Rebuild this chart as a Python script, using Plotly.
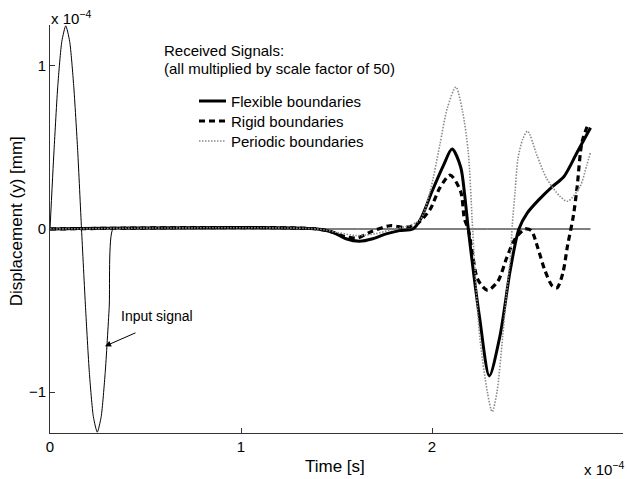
import plotly.graph_objects as go

# Time axis in units of 1e-4 s, displacement in units of 1e-4 mm
input_t = [0, 0.021, 0.041, 0.062, 0.0825, 0.103, 0.124, 0.145, 0.165, 0.186, 0.206,
           0.227, 0.2475, 0.268, 0.289, 0.31, 0.33, 0.40, 2.83]
input_y = [0, 0.48, 0.88, 1.15, 1.245, 1.15, 0.88, 0.48, 0, -0.48, -0.88,
           -1.15, -1.245, -1.15, -0.88, -0.48, 0, 0, 0]

flex_t = [0, 1.40, 1.48, 1.55, 1.62, 1.69, 1.76, 1.83, 1.90, 1.94, 2.00, 2.06, 2.105,
          2.15, 2.17, 2.19, 2.25, 2.30, 2.355, 2.41, 2.455, 2.50, 2.56, 2.63, 2.69,
          2.76, 2.83]
flex_y = [0, 0, -0.02, -0.06, -0.075, -0.06, -0.03, -0.01, 0.0, 0.06, 0.23, 0.39, 0.49,
          0.38, 0.22, 0.0, -0.55, -0.90, -0.66, -0.25, 0.0, 0.10, 0.18, 0.26, 0.32,
          0.47, 0.62]

rigid_t = [0, 1.40, 1.48, 1.54, 1.61, 1.675, 1.78, 1.86, 1.92, 1.99, 2.04, 2.095, 2.15,
           2.17, 2.19, 2.21, 2.24, 2.29, 2.345, 2.39, 2.435, 2.487, 2.52, 2.555, 2.59,
           2.63, 2.655, 2.685, 2.71, 2.74, 2.76, 2.785, 2.82]
rigid_y = [0, 0, -0.02, -0.045, -0.055, -0.02, 0.02, 0.01, 0.03, 0.12, 0.25, 0.33, 0.23,
           0.06, 0.0, -0.14, -0.31, -0.375, -0.32, -0.18, -0.06, 0.0, -0.01, -0.12, -0.25,
           -0.35, -0.36, -0.27, -0.10, 0.08, 0.26, 0.53, 0.65]

periodic_t = [0, 1.40, 1.50, 1.60, 1.70, 1.80, 1.88, 1.94, 1.99, 2.04, 2.08, 2.125, 2.16,
              2.19, 2.21, 2.225, 2.25, 2.29, 2.315, 2.34, 2.37, 2.39, 2.41, 2.42, 2.435,
              2.45, 2.475, 2.50, 2.55, 2.60, 2.67, 2.71, 2.775, 2.81, 2.83]
periodic_y = [0, 0, -0.02, -0.04, -0.03, 0.0, 0.02, 0.06, 0.23, 0.51, 0.74, 0.87, 0.72,
              0.47, 0.06, -0.25, -0.66, -1.0, -1.12, -1.0, -0.66, -0.40, -0.18, 0.02, 0.23,
              0.43, 0.55, 0.60, 0.45, 0.31, 0.20, 0.17, 0.26, 0.39, 0.47]

x_ticks = [0, 1, 2, 3]
y_ticks = [-1, 0, 1]

series_names = ["Flexible boundaries", "Rigid boundaries", "Periodic boundaries"]

FONT = "Liberation Sans, Arial, Helvetica, sans-serif"

styles = [
    dict(color="black", width=3),
    dict(color="black", width=3.2, dash="6px,4px"),
    dict(color="#8a8a8a", width=1.6, dash="1.5px,1.5px"),
]

fig = go.Figure()

fig.add_trace(go.Scatter(x=input_t, y=input_y, mode="lines", showlegend=False,
                         line=dict(color="black", width=1, shape="spline", smoothing=0.6)))
for name, tx, ty, st in zip(series_names, [flex_t, rigid_t, periodic_t],
                            [flex_y, rigid_y, periodic_y], styles):
    fig.add_trace(go.Scatter(x=tx, y=ty, mode="lines", name=name, showlegend=False,
                             line=dict(shape="spline", smoothing=0.8, **st)))

axis_common = dict(showgrid=False, zeroline=False, showline=True, linecolor="#333333",
                   linewidth=1, ticks="inside", ticklen=5, tickcolor="#333333",
                   tickfont=dict(family=FONT, size=15, color="black"), mirror=False)

fig.update_xaxes(range=[0, 3], tickvals=x_ticks, ticktext=[str(v) for v in x_ticks],
                 **axis_common)
fig.update_yaxes(range=[-1.25, 1.25], tickvals=y_ticks,
                 ticktext=["\u22121", "0", "1"], **axis_common)

# Legend drawn by hand: line samples plus labels, in paper coordinates
PLOT_L, PLOT_W, PLOT_B, PLOT_H = 50, 573, 433, 408


def px_x(p):
    return (p - PLOT_L) / PLOT_W


def px_y(p):
    return (PLOT_B - p) / PLOT_H


shapes = []
annotations = []
for i, (name, st) in enumerate(zip(series_names, styles)):
    row_y = 101 + 20 * i
    shapes.append(dict(type="line", xref="paper", yref="paper",
                       x0=px_x(199), x1=px_x(226), y0=px_y(row_y), y1=px_y(row_y),
                       line=st))
    annotations.append(dict(text=name, xref="paper", yref="paper", x=px_x(229),
                            y=px_y(row_y), xanchor="left", yanchor="middle",
                            showarrow=False, font=dict(family=FONT, size=15, color="black")))

annotations += [
    dict(text="Time [s]", xref="paper", yref="paper", x=0.498, y=-0.081,
         xanchor="center", yanchor="middle", showarrow=False,
         font=dict(family=FONT, size=17, color="black")),
    dict(text="Displacement (y) [mm]", xref="paper", yref="paper", x=-0.057, y=0.52,
         xanchor="center", yanchor="middle", textangle=-90, showarrow=False,
         font=dict(family=FONT, size=17, color="black")),
    dict(text="x 10<sup>\u22124</sup>", xref="paper", yref="paper", x=-0.002, y=0.99,
         xanchor="left", yanchor="bottom", showarrow=False,
         font=dict(family=FONT, size=15, color="black")),
    dict(text="x 10<sup>\u22124</sup>", xref="paper", yref="paper", x=1.005, y=-0.06,
         xanchor="right", yanchor="top", showarrow=False,
         font=dict(family=FONT, size=15, color="black")),
    dict(text="Received Signals:", xref="paper", yref="paper", x=px_x(162), y=px_y(50),
         xanchor="left", yanchor="middle", showarrow=False,
         font=dict(family=FONT, size=15, color="black")),
    dict(text="(all multiplied by scale factor of 50)", xref="paper", yref="paper",
         x=px_x(162), y=px_y(69), xanchor="left", yanchor="middle", showarrow=False,
         font=dict(family=FONT, size=15, color="black")),
    dict(text="Input signal", x=0.361, y=-0.534, xref="x", yref="y",
         showarrow=False, xanchor="left", yanchor="middle",
         font=dict(family=FONT, size=14, color="black")),
    dict(text="", x=0.288, y=-0.718, xref="x", yref="y",
         showarrow=True, arrowhead=2, arrowsize=1.2, arrowwidth=1, arrowcolor="black",
         ax=32, ay=-14),
]

fig.update_layout(
    width=627, height=479,
    margin=dict(l=50, r=4, t=25, b=46),
    paper_bgcolor="white", plot_bgcolor="white",
    font=dict(family=FONT, size=15, color="black"),
    showlegend=False,
    shapes=shapes,
    annotations=annotations,
)

fig.write_html("out.html")
